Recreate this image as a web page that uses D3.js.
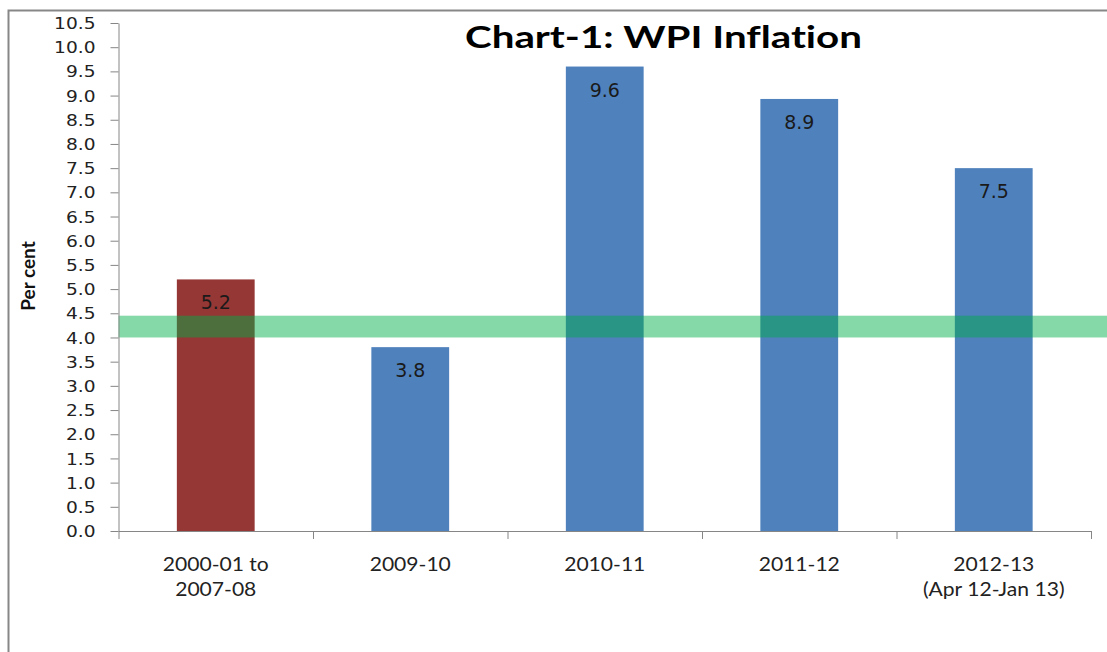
<!DOCTYPE html>
<html>
<head>
<meta charset="utf-8">
<script src="https://cdn.jsdelivr.net/npm/d3@7"></script>
<style>
  body { margin: 0; background: #fff; }
  svg { display: block; }
  text { font-variant-ligatures: none; }
</style>
</head>
<body>
<div id="chart"></div>
<script>
var width = 1107;
var height = 652;
let axis_color = "#868686";
let text_color = "#222222";

// data
let categories = ["2000-01 to 2007-08", "2009-10", "2010-11", "2011-12", "2012-13 (Apr 12-Jan 13)"];
let cat_lines = [["2000-01 to", "2007-08"], ["2009-10"], ["2010-11"], ["2011-12"], ["2012-13", "(Apr 12-Jan 13)"]];
let values = [5.2, 3.8, 9.6, 8.93, 7.5];
let labels = ["5.2", "3.8", "9.6", "8.9", "7.5"];
let bar_colors = ["#953735", "#4F81BD", "#4F81BD", "#4F81BD", "#4F81BD"];
let y_ticks = d3.range(0, 10.51, 0.5);
let band = [4.0, 4.45];

var svg = d3.select("#chart").append("svg")
  .attr("width", width)
  .attr("height", height)
  .style("background", "#fff");

// outer frame (cut at right / bottom)
svg.append("path")
  .attr("d", "M8.5," + height + " V10.5 H" + width)
  .style("fill", "none")
  .style("stroke", "#878787")
  .style("stroke-width", 2);

var x0 = 118.5, x1 = 1091;
var y = d3.scaleLinear().domain([0, 10.5]).range([531, 23]);
var x = d3.scaleBand().domain(categories).range([x0, x1])
  .paddingInner(0.6).paddingOuter(0.3);
var xb = d3.scaleLinear().domain([0, categories.length]).range([x0, x1]);

// bars
svg.append("g").attr("id", "bars")
  .selectAll("rect")
  .data(categories)
  .enter().append("rect")
  .attr("x", function(d) { return x(d); })
  .attr("y", function(d, i) { return y(values[i]); })
  .attr("width", x.bandwidth())
  .attr("height", function(d, i) { return y(0) - y(values[i]); })
  .style("fill", function(d, i) { return bar_colors[i]; });

// bar labels
svg.append("g").attr("id", "bar_labels")
  .selectAll("text")
  .data(categories)
  .enter().append("text")
  .attr("x", function(d) { return x(d) + x.bandwidth() / 2; })
  .attr("y", function(d, i) { return y(values[i]) + 30; })
  .attr("text-anchor", "middle")
  .style("font-family", "DejaVu Sans, Verdana, sans-serif")
  .style("font-size", "19px")
  .style("fill", "#1a1a1a")
  .text(function(d, i) { return labels[i]; });

// green band over the bars
svg.append("rect")
  .attr("x", x0)
  .attr("y", y(band[1]))
  .attr("width", width - x0)
  .attr("height", y(band[0]) - y(band[1]))
  .style("fill", "rgb(0,173,73)")
  .style("opacity", 0.48);

// y axis
var y_axis = d3.axisLeft(y)
  .tickValues(y_ticks)
  .tickFormat(d3.format(".1f"))
  .tickSize(8)
  .tickSizeOuter(0);

var g_y = svg.append("g")
  .attr("transform", "translate(" + x0 + ",0)")
  .call(y_axis);
g_y.select(".domain").style("stroke", axis_color);
g_y.selectAll(".tick line").style("stroke", axis_color);
g_y.selectAll(".tick text")
  .attr("x", 0)
  .attr("dy", "0.36em")
  .attr("transform", "translate(-23,0) scale(1.2,1)")
  .style("font-family", "DejaVu Sans, Verdana, sans-serif")
  .style("font-size", "15.5px")
  .style("fill", text_color);

// x axis (ticks at category boundaries)
var x_axis = d3.axisBottom(xb)
  .tickValues(d3.range(0, categories.length + 1))
  .tickFormat("")
  .tickSize(8)
  .tickSizeOuter(0);

var g_x = svg.append("g")
  .attr("transform", "translate(0," + y(0) + ")")
  .call(x_axis);
g_x.select(".domain").style("stroke", axis_color);
g_x.selectAll(".tick line").style("stroke", axis_color);

// category labels
var g_cat = svg.append("g").attr("id", "cat_labels");
categories.forEach(function(c, i) {
  let cx = x(c) + x.bandwidth() / 2;
  let t = g_cat.append("text")
    .attr("transform", "translate(" + cx + ",0) scale(1.14,1)")
    .attr("text-anchor", "middle")
    .style("font-family", "Lato, 'Open Sans', sans-serif")
    .style("font-size", "18.5px")
    .style("fill", text_color);
  cat_lines[i].forEach(function(line, k) {
    t.append("tspan").attr("x", 0).attr("y", 571.5 + k * 24.5).text(line);
  });
});

// y label
svg.append("text")
  .attr("transform", "translate(35,276) rotate(-90)")
  .attr("text-anchor", "middle")
  .style("font-family", "Lato, 'Open Sans', sans-serif")
  .style("font-weight", "bold")
  .style("font-size", "19px")
  .style("fill", "#111")
  .text("Per cent");

// title
svg.append("text")
  .attr("x", 465)
  .attr("y", 48)
  .attr("textLength", 397)
  .attr("lengthAdjust", "spacingAndGlyphs")
  .style("font-family", "Lato, 'Open Sans', sans-serif")
  .style("font-weight", "bold")
  .style("font-size", "31px")
  .style("fill", "#000")
  .text("Chart-1: WPI Inflation");
</script>
</body>
</html>
